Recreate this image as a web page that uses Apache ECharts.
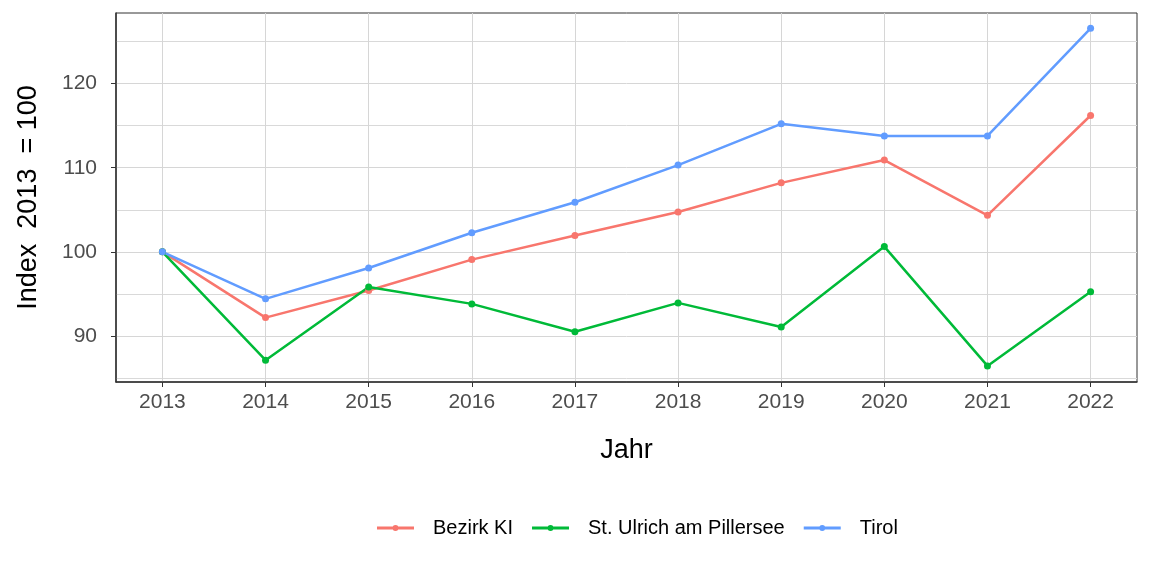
<!DOCTYPE html>
<html>
<head>
<meta charset="utf-8">
<script src="https://cdn.jsdelivr.net/npm/echarts@6/dist/echarts.min.js"></script>
<style>html,body{margin:0;padding:0;background:#fff}#c{width:1152px;height:576px}</style>
</head>
<body>
<div id="c"></div>
<script>
const years = [2013, 2014, 2015, 2016, 2017, 2018, 2019, 2020, 2021, 2022];
const bezirkKI = [100, 92.19, 95.41, 99.08, 101.95, 104.73, 108.2, 110.91, 104.34, 116.2];
const stUlrich = [100, 87.13, 95.82, 93.82, 90.51, 93.94, 91.08, 100.63, 86.45, 95.26];
const tirol = [100, 94.42, 98.09, 102.27, 105.89, 110.31, 115.21, 113.78, 113.78, 126.56];
const yMajor = [90, 100, 110, 120];
const yMinor = [85, 95, 105, 115, 125];
const seriesNames = ['Bezirk KI', 'St. Ulrich am Pillersee', 'Tirol'];
const colors = ['#F8766D', '#00BA38', '#619CFF'];

const chart = echarts.init(document.getElementById('c'));
const font = 'Liberation Sans, Arial, sans-serif';
const yMin = 84.54, yMax = 128.38;
function mk(name, vals, color) {
  return {
    name: name, type: 'line', data: years.map((y, i) => [y, vals[i]]),
    xAxisIndex: 0, yAxisIndex: 0,
    lineStyle: { color: color, width: 2.5 },
    itemStyle: { color: color },
    symbol: 'circle', symbolSize: 7, showSymbol: true,
    animation: false
  };
}
chart.setOption({
  animation: false,
  grid: { left: 116, right: 15, top: 13, bottom: 194, show: true, borderColor: '#333', borderWidth: 1, containLabel: false },
  xAxis: {
    type: 'value', min: 2012.55, max: 2022.45,
    name: 'Jahr', nameLocation: 'middle', nameGap: 55,
    nameTextStyle: { fontFamily: font, fontSize: 27, color: '#000' },
    axisLine: { show: true, onZero: false, lineStyle: { color: '#333', width: 1.5 } },
    axisTick: { show: true, customValues: years, length: 5, lineStyle: { color: '#333' } },
    axisLabel: { customValues: years, fontFamily: font, fontSize: 21, color: '#4d4d4d', margin: 10, formatter: v => String(v) },
    splitLine: { show: true, lineStyle: { color: '#d6d6d6', width: 1 } }
  },
  yAxis: [{
    type: 'value', min: yMin, max: yMax,
    name: 'Index  2013  = 100', nameLocation: 'middle', nameGap: 74, nameRotate: 90,
    nameTextStyle: { fontFamily: font, fontSize: 27, color: '#000' },
    axisLine: { show: true, onZero: false, lineStyle: { color: '#333', width: 1.5 } },
    axisTick: { show: true, customValues: yMajor, length: 5, lineStyle: { color: '#333' } },
    axisLabel: { customValues: yMajor, fontFamily: font, fontSize: 21, color: '#4d4d4d', margin: 19 },
    splitLine: { show: true, lineStyle: { color: '#d6d6d6', width: 1 } }
  }, {
    type: 'value', min: yMin, max: yMax, position: 'left',
    axisLine: { show: false }, axisLabel: { show: false },
    axisTick: { show: false, customValues: yMinor },
    splitLine: { show: true, lineStyle: { color: '#d9d9d9', width: 1 } }
  }],
  legend: {
    data: seriesNames, top: 513, left: 372, itemWidth: 37, itemHeight: 7, itemGap: 19,
    icon: 'path://M0,2L37,2L37,5L0,5Z M15.5,3.5A3,3 0 1,1 21.5,3.5A3,3 0 1,1 15.5,3.5Z',
    textStyle: { fontFamily: font, fontSize: 20, color: '#000', padding: [0, 0, 0, 14] }
  },
  series: [mk(seriesNames[0], bezirkKI, colors[0]), mk(seriesNames[1], stUlrich, colors[1]), mk(seriesNames[2], tirol, colors[2])]
});
</script>
</body>
</html>
